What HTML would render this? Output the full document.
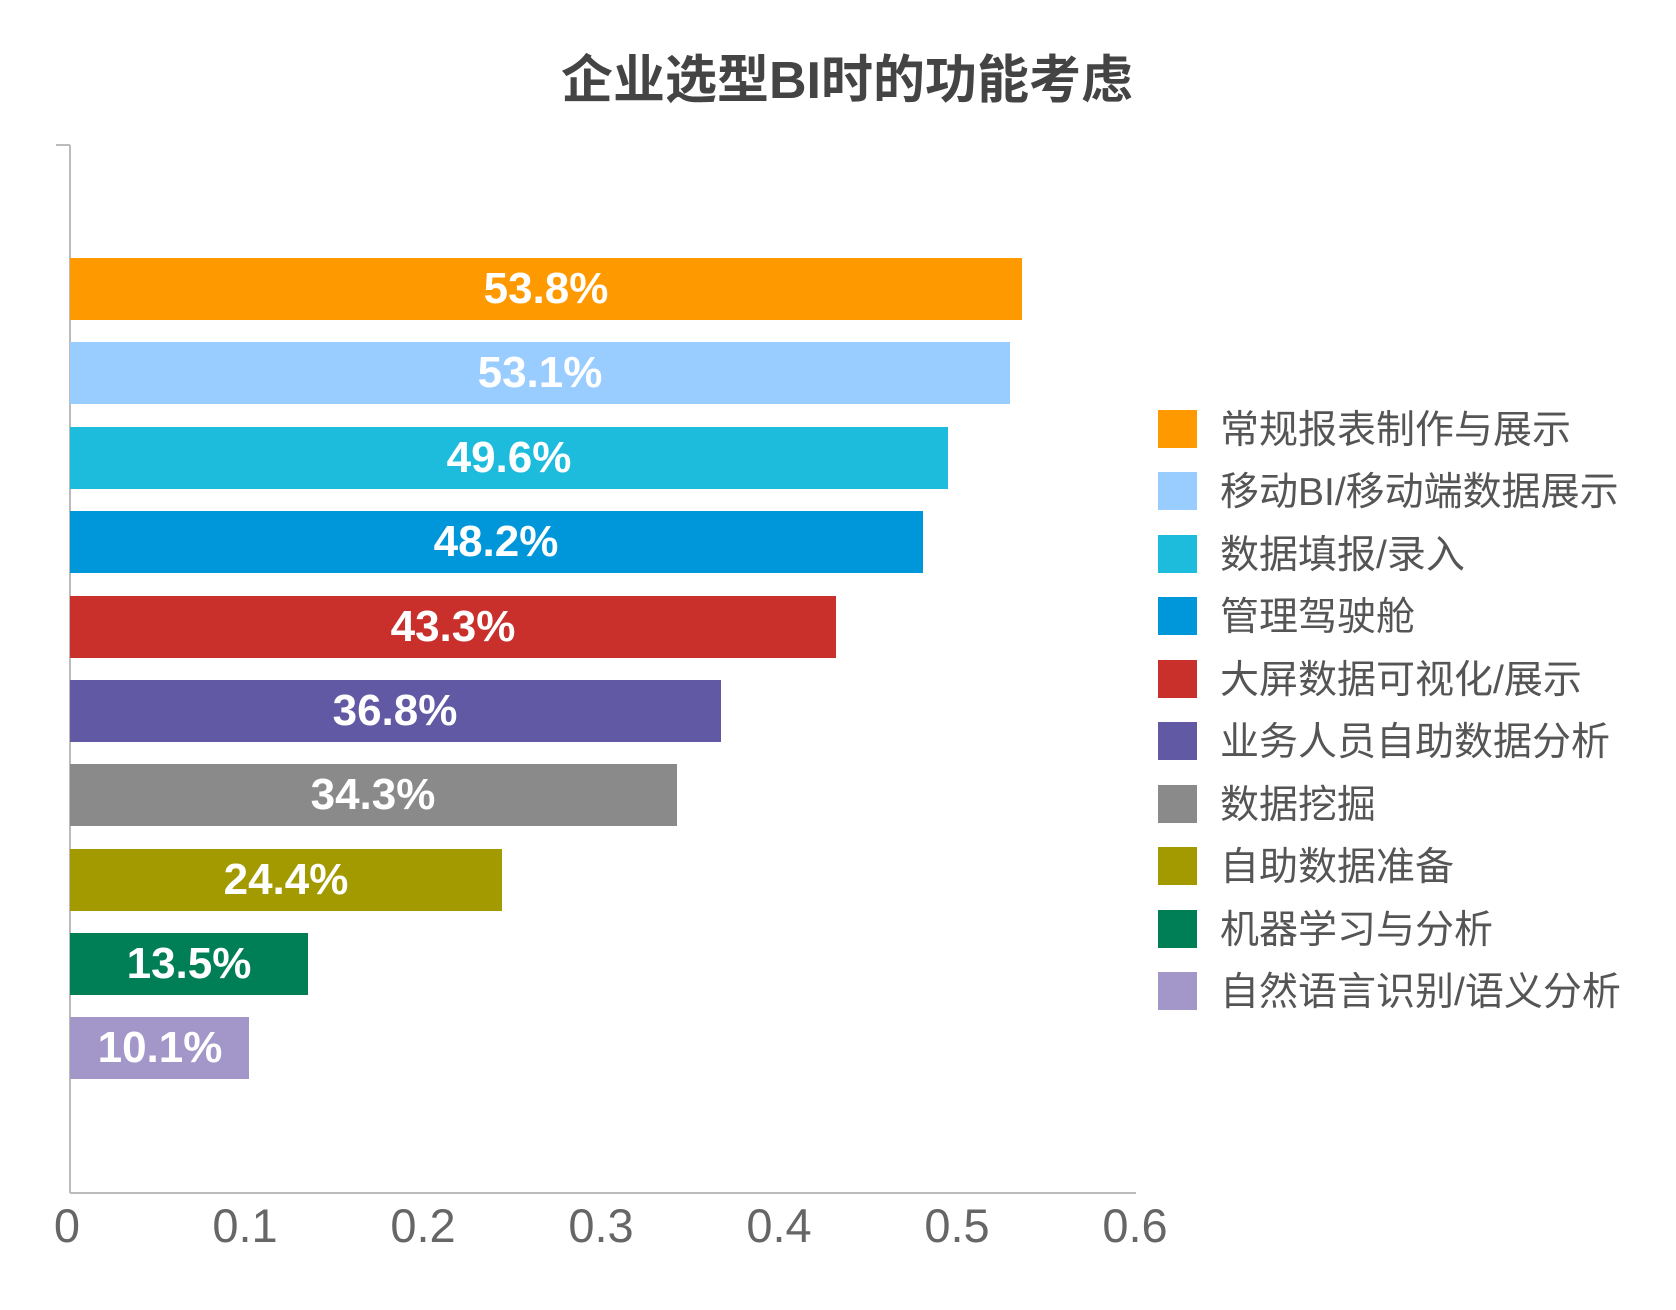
<!DOCTYPE html>
<html><head><meta charset="utf-8"><style>
html,body{margin:0;padding:0;background:#fff;}
svg{display:block;}
text{font-family:"Liberation Sans","Noto Sans CJK SC",sans-serif;}
</style></head><body>
<svg width="1676" height="1310" viewBox="0 0 1676 1310" xmlns="http://www.w3.org/2000/svg">
<text x="847" y="98" text-anchor="middle" font-size="52" font-weight="bold" fill="#444">企业选型BI时的功能考虑</text>
<line x1="70" y1="145" x2="70" y2="1193" stroke="#bbb" stroke-width="2"/>
<line x1="56" y1="145" x2="70" y2="145" stroke="#bbb" stroke-width="2"/>
<line x1="70" y1="1193" x2="1136" y2="1193" stroke="#bbb" stroke-width="2"/>
<g font-size="44" font-weight="bold" fill="#fff" text-anchor="middle">
<rect x="70" y="258" width="952" height="62" fill="#FF9900"/><text x="546" y="303">53.8%</text>
<rect x="70" y="342" width="940" height="62" fill="#99CCFF"/><text x="540" y="387">53.1%</text>
<rect x="70" y="427" width="878" height="62" fill="#1EBCDC"/><text x="509" y="472">49.6%</text>
<rect x="70" y="511" width="853" height="62" fill="#0096DA"/><text x="496" y="556">48.2%</text>
<rect x="70" y="596" width="766" height="62" fill="#C9302C"/><text x="453" y="641">43.3%</text>
<rect x="70" y="680" width="651" height="62" fill="#6259A4"/><text x="395" y="725">36.8%</text>
<rect x="70" y="764" width="607" height="62" fill="#8A8A8A"/><text x="373" y="809">34.3%</text>
<rect x="70" y="849" width="432" height="62" fill="#A39A00"/><text x="286" y="894">24.4%</text>
<rect x="70" y="933" width="238" height="62" fill="#007F56"/><text x="189" y="978">13.5%</text>
<rect x="70" y="1017" width="179" height="62" fill="#A397C9"/><text x="160" y="1062">10.1%</text>
</g>
<g font-size="47" fill="#666" text-anchor="middle">
<text x="67" y="1242">0</text><text x="245" y="1242">0.1</text><text x="423" y="1242">0.2</text>
<text x="601" y="1242">0.3</text><text x="779" y="1242">0.4</text><text x="957" y="1242">0.5</text><text x="1135" y="1242">0.6</text>
</g>
<g font-size="39" fill="#555">
<rect x="1158" y="410" width="39" height="38" fill="#FF9900"/><text x="1220" y="443">常规报表制作与展示</text>
<rect x="1158" y="472" width="39" height="38" fill="#99CCFF"/><text x="1220" y="505">移动BI/移动端数据展示</text>
<rect x="1158" y="535" width="39" height="38" fill="#1EBCDC"/><text x="1220" y="568">数据填报/录入</text>
<rect x="1158" y="597" width="39" height="38" fill="#0096DA"/><text x="1220" y="630">管理驾驶舱</text>
<rect x="1158" y="660" width="39" height="38" fill="#C9302C"/><text x="1220" y="693">大屏数据可视化/展示</text>
<rect x="1158" y="722" width="39" height="38" fill="#6259A4"/><text x="1220" y="755">业务人员自助数据分析</text>
<rect x="1158" y="785" width="39" height="38" fill="#8A8A8A"/><text x="1220" y="818">数据挖掘</text>
<rect x="1158" y="847" width="39" height="38" fill="#A39A00"/><text x="1220" y="880">自助数据准备</text>
<rect x="1158" y="910" width="39" height="38" fill="#007F56"/><text x="1220" y="943">机器学习与分析</text>
<rect x="1158" y="972" width="39" height="38" fill="#A397C9"/><text x="1220" y="1005">自然语言识别/语义分析</text>
</g>
</svg>
</body></html>
